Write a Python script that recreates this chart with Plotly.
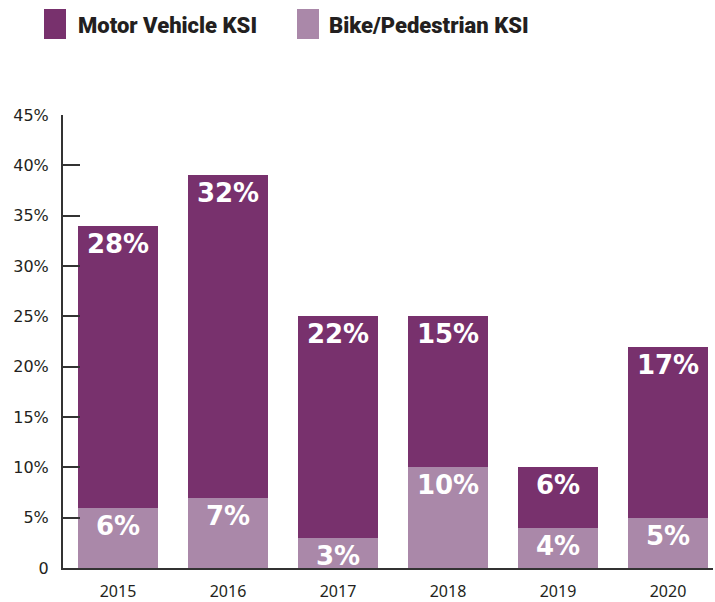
import plotly.graph_objects as go

years = ["2015", "2016", "2017", "2018", "2019", "2020"]
bike_ped = [6, 7, 3, 10, 4, 5]
motor_vehicle = [28, 32, 22, 15, 6, 17]
series_names = ["Motor Vehicle KSI", "Bike/Pedestrian KSI"]
tick_vals = [0, 5, 10, 15, 20, 25, 30, 35, 40, 45]
tick_text = ["0", "5%", "10%", "15%", "20%", "25%", "30%", "35%", "40%", "45%"]

DARK = "#78316D"
LIGHT = "#AA88A9"

W, H = 715, 602
ML, MR, MT, MB = 63, 2, 115, 34

label_font = dict(family="DejaVu Sans", size=26, color="white", weight="bold")

fig = go.Figure()
fig.add_trace(go.Bar(
    x=years, y=bike_ped, name=series_names[1], marker=dict(color=LIGHT, line=dict(width=0)),
    text=[f"{v}%" for v in bike_ped], textposition="inside", insidetextanchor="end",
    textfont=label_font, constraintext="none", textangle=0, showlegend=False,
))
fig.add_trace(go.Bar(
    x=years, y=motor_vehicle, name=series_names[0], marker=dict(color=DARK, line=dict(width=0)),
    text=[f"{v}%" for v in motor_vehicle], textposition="inside", insidetextanchor="end",
    textfont=label_font, constraintext="none", textangle=0, showlegend=False,
))

pw = W - ML - MR
ph = H - MT - MB
def px_x(p):
    return (p - ML) / pw
def px_y(p):
    return (H - MB - p) / ph

shapes = []
annotations = []
legend_items = [(series_names[0], DARK, 44, 76), (series_names[1], LIGHT, 297, 327)]
for name, col, sx, tx in legend_items:
    shapes.append(dict(type="rect", xref="paper", yref="paper",
                       x0=px_x(sx), x1=px_x(sx + 22), y0=px_y(39), y1=px_y(9),
                       fillcolor=col, line=dict(width=0)))
    annotations.append(dict(text=name, xref="paper", yref="paper", x=px_x(tx), y=px_y(25),
                            xanchor="left", yanchor="middle", showarrow=False,
                            font=dict(family="Roboto", size=22, color="#231F20", weight=900)))

fig.update_layout(
    width=W, height=H,
    margin=dict(l=ML, r=MR, t=MT, b=MB, pad=0, autoexpand=False),
    barmode="stack", bargap=0.2727,
    plot_bgcolor="white", paper_bgcolor="white",
    showlegend=False,
    shapes=shapes, annotations=annotations,
    xaxis=dict(range=[-0.5, 5.409], showgrid=False, zeroline=False, automargin=False,
               showline=True, linecolor="#333333", linewidth=2,
               ticks="", tickfont=dict(family="Noto Sans", size=16, color="#231F20"),
               ticklabelstandoff=8),
    yaxis=dict(range=[0, 45], tickvals=tick_vals, ticktext=tick_text,
               showgrid=False, zeroline=False, automargin=False,
               showline=True, linecolor="#333333", linewidth=2,
               ticks="inside", ticklen=17, tickwidth=2, tickcolor="#333333",
               tickfont=dict(family="DejaVu Sans", size=16, color="#231F20"),
               ticklabelstandoff=9),
)

fig.write_html("out.html", config={"displayModeBar": False},
               post_script="document.body.style.margin='0';document.body.style.overflow='hidden';")
